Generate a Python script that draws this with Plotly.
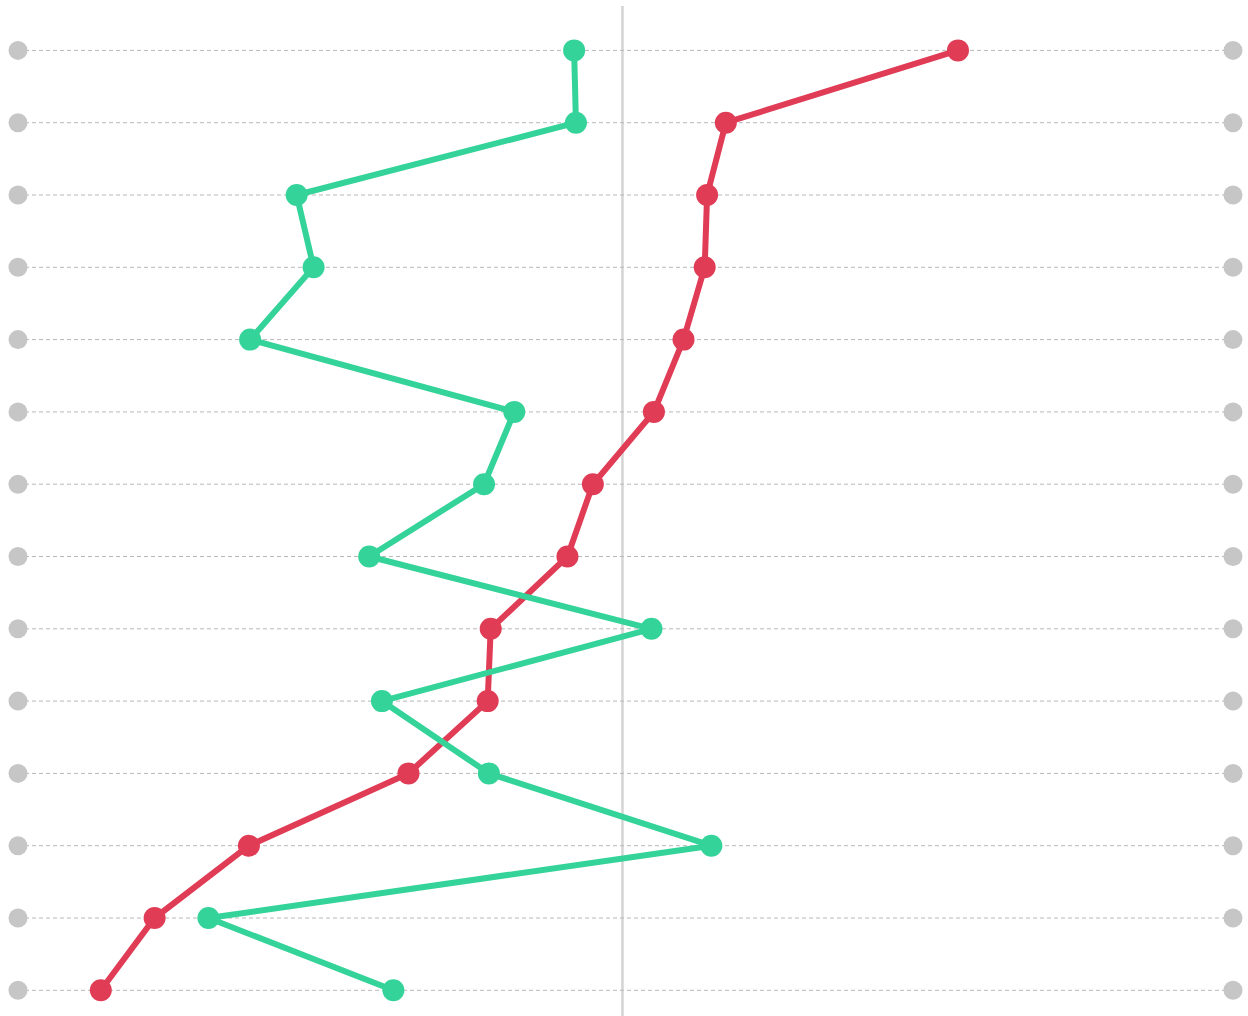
import plotly.graph_objects as go

rows = list(range(14))
green_values = [-8.0, -7.7, -53.9, -51.1, -61.6, -17.9, -22.9, -41.9, 4.8, -39.8, -22.1, 14.7, -68.5, -37.9]
red_values = [55.5, 17.1, 14.0, 13.6, 10.1, 5.2, -4.9, -9.1, -21.8, -22.3, -35.4, -61.8, -77.4, -86.3]
axis_min = -100
axis_max = 101

GREEN = "#34D399"
RED = "#E03C56"
GRAY_DOT = "#C6C6C6"
GRID = "#B8B8B8"

fig = go.Figure()

# dashed row guides
gx, gy = [], []
for r in rows:
    gx += [axis_min, axis_max, None]
    gy += [r, r, None]
fig.add_trace(go.Scatter(x=gx, y=gy, mode="lines",
                         line=dict(color=GRID, width=1, dash="4px,3px"),
                         hoverinfo="skip", showlegend=False))

# end dots
fig.add_trace(go.Scatter(x=[axis_min] * len(rows) + [axis_max] * len(rows),
                         y=rows + rows, mode="markers",
                         marker=dict(color=GRAY_DOT, size=19),
                         hoverinfo="skip", showlegend=False))

fig.add_trace(go.Scatter(x=red_values, y=rows, mode="lines+markers",
                         line=dict(color=RED, width=6),
                         marker=dict(color=RED, size=22),
                         showlegend=False))
fig.add_trace(go.Scatter(x=green_values, y=rows, mode="lines+markers",
                         line=dict(color=GREEN, width=6),
                         marker=dict(color=GREEN, size=22),
                         showlegend=False))

# center line
fig.add_shape(type="line", xref="x", yref="paper", x0=0, x1=0, y0=0, y1=1 - 6 / 1016,
              line=dict(color="#D4D4D4", width=2.5), layer="below")

W, H = 1248, 1016
scale = (1233 - 18) / (axis_max - axis_min)
x0 = axis_min - 18 / scale
x1 = x0 + W / scale
step = (990.3 - 50.4) / 13
y_top = -50.4 / step
y_bot = 13 + (H - 990.3) / step

fig.update_layout(
    width=W, height=H,
    margin=dict(l=0, r=0, t=0, b=0),
    paper_bgcolor="white", plot_bgcolor="white",
    xaxis=dict(range=[x0, x1], visible=False, fixedrange=True),
    yaxis=dict(range=[y_bot, y_top], visible=False, fixedrange=True),
)

fig.write_html("out.html", config={"displayModeBar": False},
               post_script="document.body.style.margin='0';document.body.style.overflow='hidden';")
